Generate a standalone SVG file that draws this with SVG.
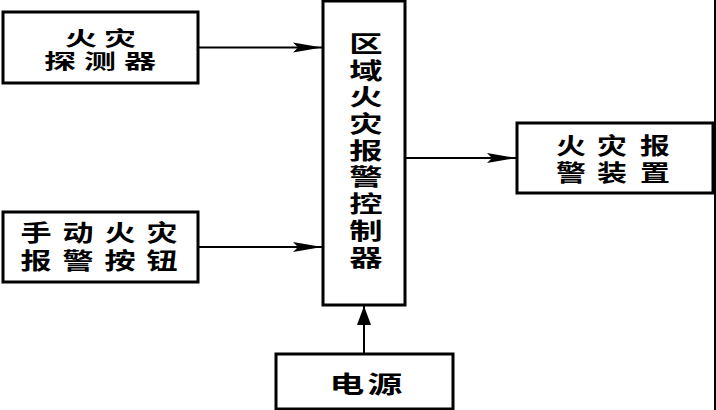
<svg xmlns="http://www.w3.org/2000/svg" width="716" height="410" viewBox="0 0 716 410">
<style>
.box{fill:#fff;stroke:#000;stroke-width:3}
.t{font-family:"Noto Sans CJK SC","Noto Sans CJK JP",sans-serif;font-weight:bold;font-size:23px;text-anchor:middle;fill:#000}
.c{stroke:#000;stroke-width:2;fill:none}
</style>
<defs>
<marker id="ah" markerUnits="userSpaceOnUse" markerWidth="30" markerHeight="12" refX="29" refY="5" orient="auto" viewBox="0 0 30 10">
<path d="M0,0 L29,5 L0,10 L5,5 Z" fill="#000"/>
</marker>
<marker id="au" markerUnits="userSpaceOnUse" markerWidth="20" markerHeight="16" refX="19" refY="7" orient="auto" viewBox="0 0 20 14">
<path d="M0,0 L19,7 L0,14 Z" fill="#000"/>
</marker>
</defs>
<rect width="716" height="410" fill="#fff"/>
<g id="connectors">
<line class="c" x1="198" y1="47.5" x2="322" y2="47.5" marker-end="url(#ah)"/>
<line class="c" x1="198" y1="247" x2="322" y2="247" marker-end="url(#ah)"/>
<line class="c" x1="405" y1="158" x2="516" y2="158" marker-end="url(#ah)"/>
<line class="c" x1="364" y1="354" x2="364" y2="306" stroke-width="3" marker-end="url(#au)"/>
</g>
<g id="detector">
<rect class="box" x="3" y="12" width="195" height="71"/>
<text class="t" style="font-size:20px" transform="translate(100,45.5) scale(1.6,1)" x="-11.9 12.5" y="0">火灾</text>
<text class="t" style="font-size:20px" transform="translate(100,69) scale(1.6,1)" x="-25 0 25" y="0">探测器</text>
</g>
<g id="manual">
<rect class="box" x="3" y="212" width="195" height="70"/>
<text class="t" transform="translate(99,241) scale(1.35,1)" x="-46.7 -15.6 15.6 46.7" y="0">手动火灾</text>
<text class="t" transform="translate(99,269) scale(1.35,1)" x="-46.7 -15.6 15.6 46.7" y="0">报警按钮</text>
</g>
<g id="controller">
<rect class="box" x="323" y="1" width="82" height="304"/>
<text class="t" transform="translate(366,0) scale(1.45,1)" x="0 0 0 0 0 0 0 0 0" y="52 78.7 105.4 132.1 158.8 185.5 212.2 238.9 265.6">区域火灾报警控制器</text>
</g>
<g id="alarm">
<rect class="box" x="517" y="123" width="196" height="70"/>
<text class="t" transform="translate(613,154) scale(1.3,1)" x="-32.3 -0.8 32.3" y="0">火灾报</text>
<text class="t" transform="translate(613,181) scale(1.3,1)" x="-32.3 -0.8 32.3" y="0">警装置</text>
</g>
<g id="power">
<rect class="box" x="276" y="354" width="177" height="55"/>
<text class="t" style="font-size:24px" transform="translate(366,393) scale(1.45,1)" x="-13.1 13.1" y="0">电源</text>
</g>
<line x1="715" y1="0" x2="715" y2="410" stroke="#000" stroke-width="2"/>
</svg>
